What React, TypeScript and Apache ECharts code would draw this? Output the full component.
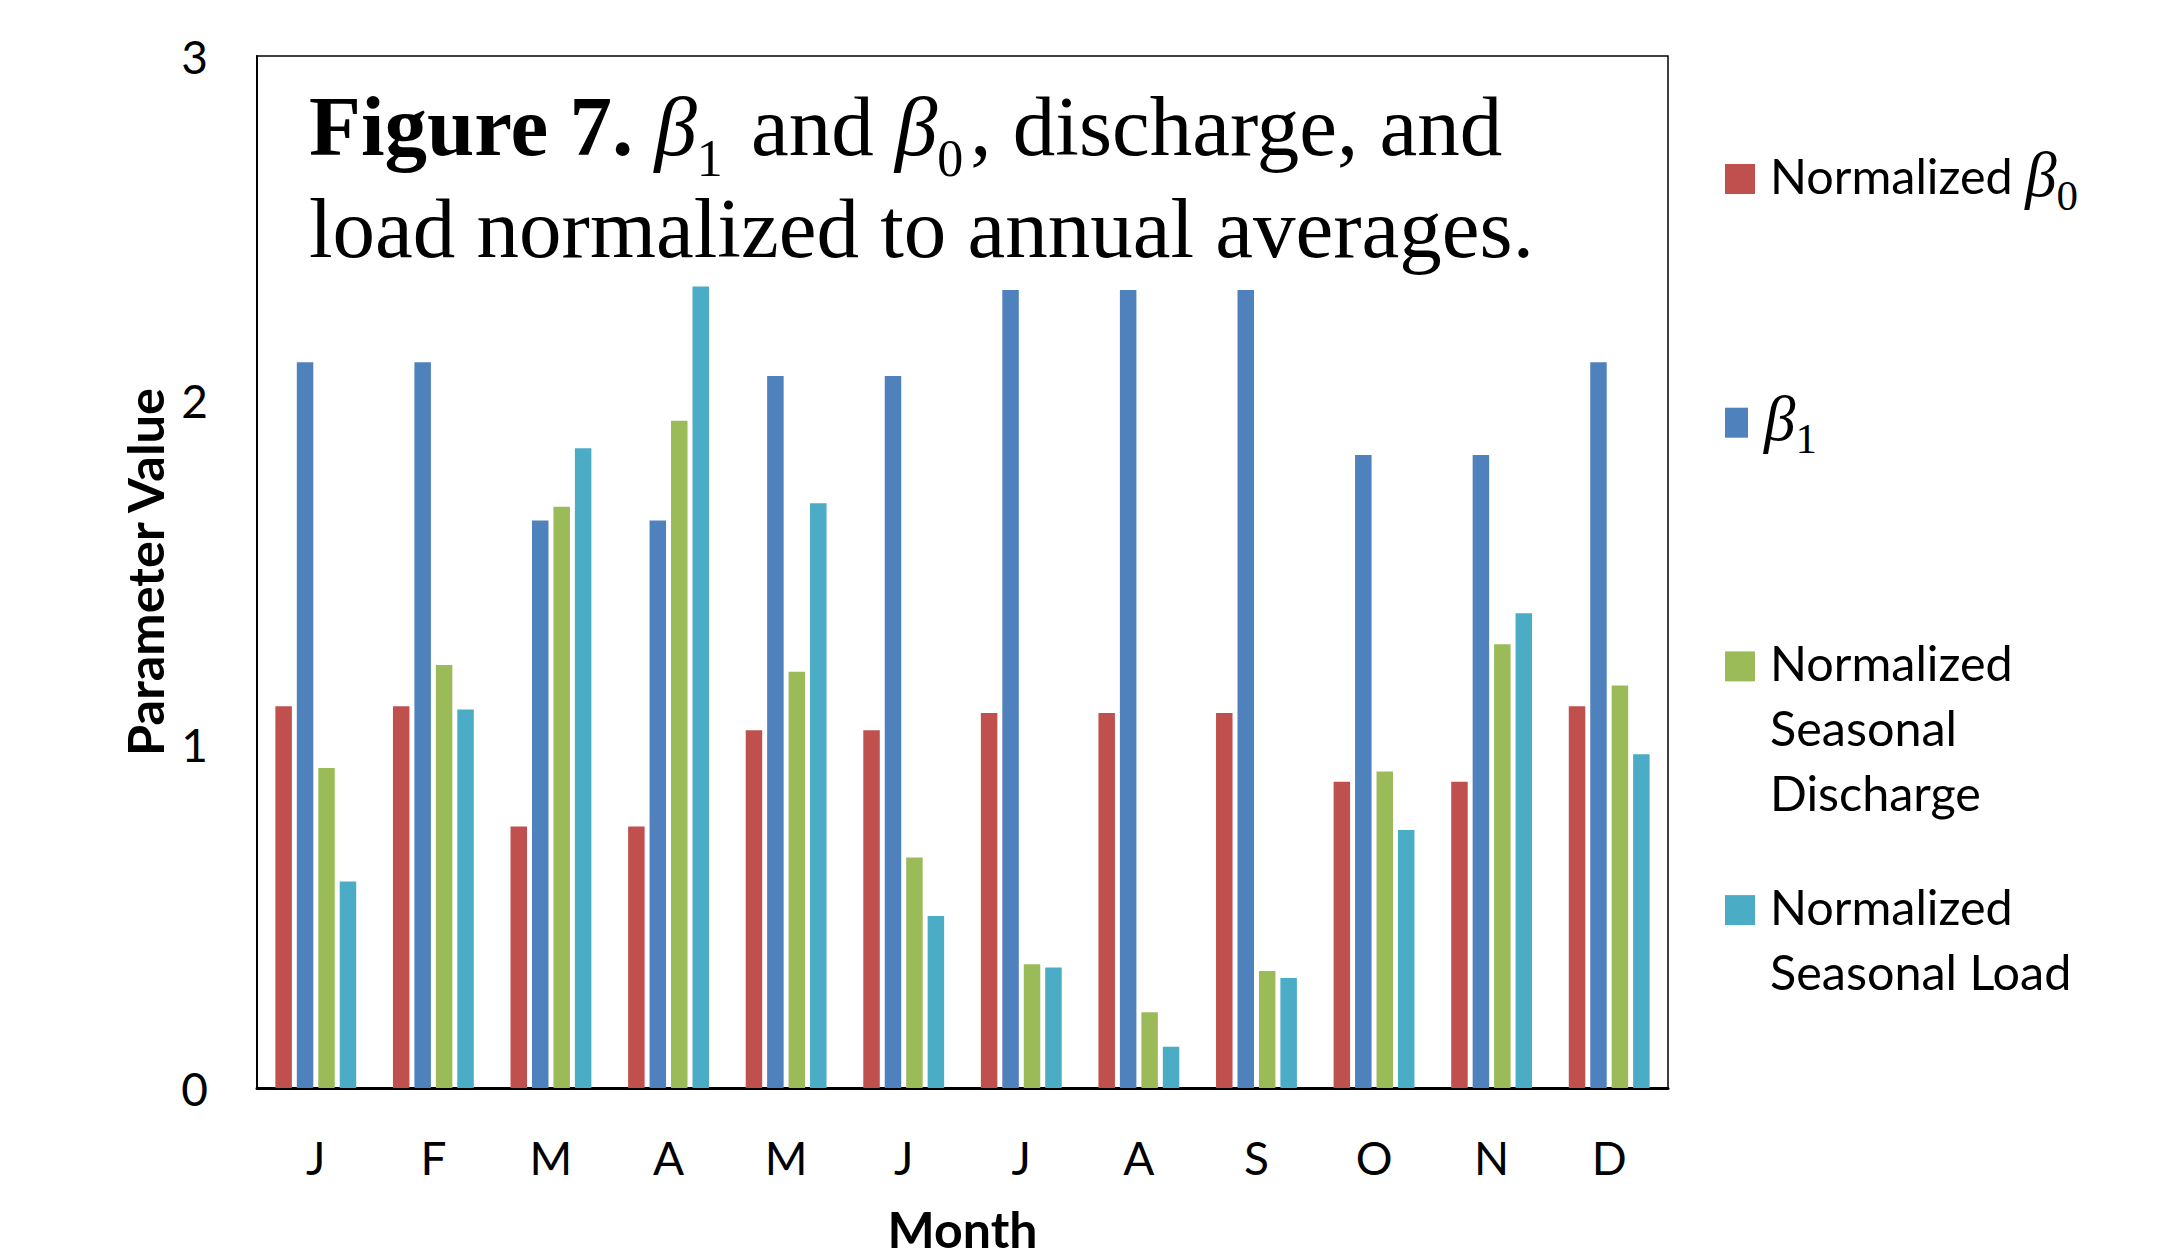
import React, { useEffect, useRef } from 'react';
import * as echarts from 'echarts';

const months = ['J', 'F', 'M', 'A', 'M', 'J', 'J', 'A', 'S', 'O', 'N', 'D'];
const beta0 = [1.11, 1.11, 0.76, 0.76, 1.04, 1.04, 1.09, 1.09, 1.09, 0.89, 0.89, 1.11];
const beta1 = [2.11, 2.11, 1.65, 1.65, 2.07, 2.07, 2.32, 2.32, 2.32, 1.84, 1.84, 2.11];
const discharge = [0.93, 1.23, 1.69, 1.94, 1.21, 0.67, 0.36, 0.22, 0.34, 0.92, 1.29, 1.17];
const load = [0.6, 1.1, 1.86, 2.33, 1.7, 0.5, 0.35, 0.12, 0.32, 0.75, 1.38, 0.97];

const seriesNames = ['Normalized β0', 'β1', 'Normalized Seasonal Discharge', 'Normalized Seasonal Load'];
const colors = ['#C0504D', '#4F81BD', '#9BBB59', '#4BACC6'];
const legendTexts = [
  '{n|Normalized }{i|β}{s|0}',
  '{i|β}{s|1}',
  '{n|Normalized}\n{n|Seasonal}\n{n|Discharge}',
  '{n|Normalized}\n{n|Seasonal Load}',
];

const yMin = 0;
const yMax = 3;
const yInterval = 1;

export default function App() {
  const ref = useRef<HTMLDivElement>(null);
  useEffect(() => {
    if (!ref.current) return;
    const chart = echarts.init(ref.current, null, { renderer: 'svg', width: 2180, height: 1259 });
    const data = [beta0, beta1, discharge, load];

    const legendGraphics: any[] = [];
    const iconTop0 = 164;
    const step = 243.7;
    legendTexts.forEach((t, i) => {
      const top = iconTop0 + i * step;
      const bottom = top + 30;
      legendGraphics.push({
        type: 'rect',
        shape: { x: 1725, y: top, width: i === 1 ? 23 : 30, height: 30 },
        style: { fill: colors[i] },
      });
      legendGraphics.push({
        type: 'text',
        x: i === 1 ? 1764 : 1770,
        y: bottom - 51.5,
        style: {
          text: t,
          verticalAlign: 'top',
          align: 'left',
          rich: {
            n: { fontFamily: 'Lato', fontSize: 48.5, lineHeight: 65, fill: '#000' },
            i: { fontFamily: 'Liberation Serif', fontStyle: 'italic', fontSize: 63, lineHeight: 65, fill: '#000' },
            s: { fontFamily: 'Liberation Serif', fontSize: 43, lineHeight: 65, fill: '#000', padding: [40, 0, 0, 0] },
          },
        },
      });
    });

    const titleFont = 'Liberation Serif';
    const option: any = {
      animation: false,
      backgroundColor: '#fff',
      grid: {
        left: 257,
        width: 1411,
        top: 56,
        height: 1041,
        show: true,
        borderColor: '#000',
        borderWidth: 1.5,
        containLabel: false,
      },
      xAxis: {
        type: 'category',
        data: months,
        axisLine: { show: true, lineStyle: { color: '#000', width: 3 } },
        axisTick: { show: false },
        axisLabel: { color: '#000', fontFamily: 'Lato', fontSize: 46, margin: 46, interval: 0 },
        name: 'Month',
        nameLocation: 'middle',
        nameGap: 116,
        nameTextStyle: { color: '#000', fontFamily: 'Lato', fontWeight: 'bold', fontSize: 50 },
        splitLine: { show: false },
      },
      yAxis: {
        type: 'value',
        min: yMin,
        max: yMax,
        interval: yInterval,
        axisLine: { show: true, lineStyle: { color: '#000', width: 2 } },
        axisTick: { show: false },
        splitLine: { show: false },
        axisLabel: { color: '#000', fontFamily: 'Lato', fontSize: 46, margin: 49 },
        name: 'Parameter Value',
        nameLocation: 'middle',
        nameGap: 87,
        nameTextStyle: { color: '#000', fontFamily: 'Lato', fontWeight: 'bold', fontSize: 50.5 },
      },
      series: seriesNames.map((name, i) => ({
        name,
        type: 'bar',
        data: data[i],
        barWidth: 16.5,
        barGap: '30%',
        itemStyle: { color: colors[i] },
      })),
      graphic: [
        {
          type: 'text',
          x: 309,
          y: 75,
          z: 10,
          style: {
            text: '{b|Figure 7. }{i|β}{s|1}{r| and }{i|β}{s|0}{r|, discharge, and}\n{r|load normalized to annual averages.}',
            verticalAlign: 'top',
            align: 'left',
            rich: {
              b: { fontFamily: titleFont, fontWeight: 'bold', fontSize: 85, lineHeight: 102, fill: '#000' },
              r: { fontFamily: titleFont, fontSize: 85, lineHeight: 102, fill: '#000' },
              i: { fontFamily: titleFont, fontStyle: 'italic', fontSize: 85, lineHeight: 102, fill: '#000' },
              s: { fontFamily: titleFont, fontSize: 52, lineHeight: 102, fill: '#000', padding: [64, 7, 0, 0] },
            },
          },
        },
        ...legendGraphics,
      ],
    };
    chart.setOption(option);
    return () => chart.dispose();
  }, []);
  return <div ref={ref} style={{ position: 'fixed', left: 0, top: 0, width: 2180, height: 1259, background: '#fff' }} />;
}
